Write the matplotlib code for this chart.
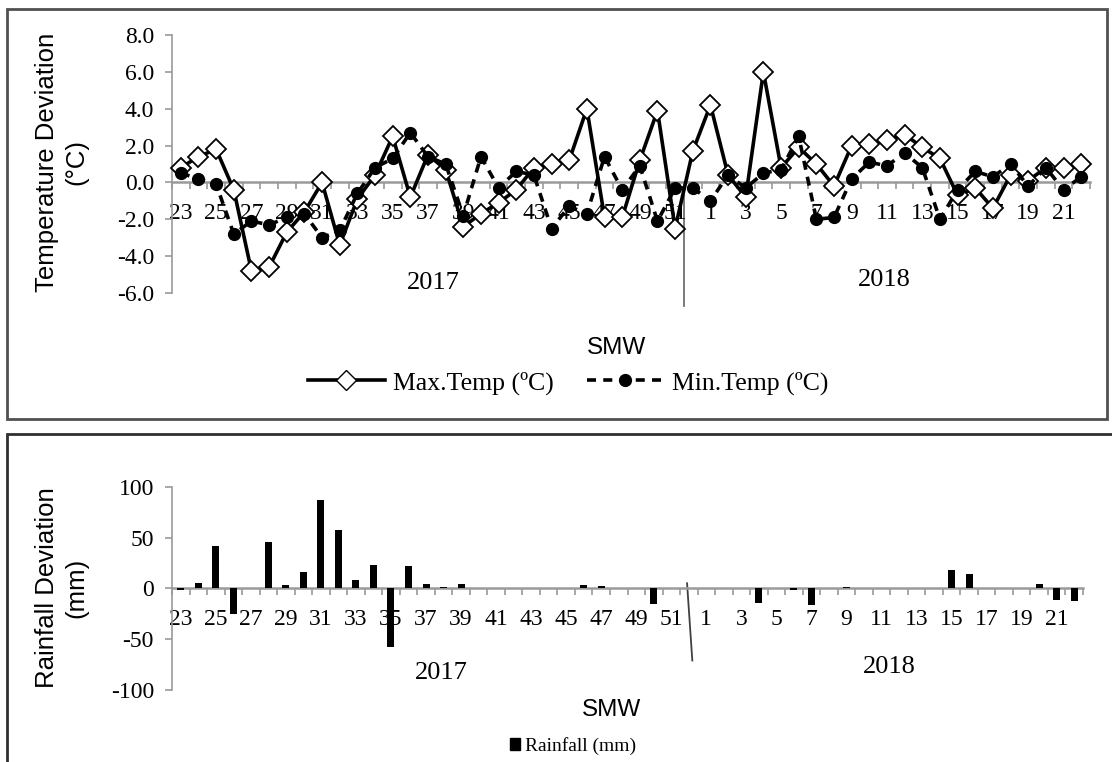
import matplotlib.pyplot as plt
from matplotlib.lines import Line2D
from matplotlib.patches import Rectangle
import numpy as np

# Standard meteorological weeks, June 2017 to May 2018
weeks = [23, 24, 25, 26, 27, 28, 29, 30, 31, 32, 33, 34, 35, 36, 37, 38, 39, 40,
         41, 42, 43, 44, 45, 46, 47, 48, 49, 50, 51, 52,
         1, 2, 3, 4, 5, 6, 7, 8, 9, 10, 11, 12, 13, 14, 15, 16, 17, 18, 19, 20, 21, 22]

# Temperature deviation (deg C)
max_temp = [0.8, 1.4, 1.8, -0.4, -4.8, -4.6, -2.7, -1.6, 0.0, -3.4, -0.9, 0.4, 2.5,
            -0.8, 1.5, 0.7, -2.4, -1.7, -1.1, -0.4, 0.8, 1.0, 1.2, 4.0, -1.9, -1.9,
            1.2, 3.9, -2.5, 1.7,
            4.2, 0.4, -0.8, 6.0, 0.8, 1.9, 1.0, -0.2, 2.0, 2.1, 2.3, 2.6, 1.9, 1.3,
            -0.7, -0.3, -1.4, 0.4, 0.1, 0.8, 0.8, 1.0]
min_temp = [0.5, 0.2, -0.1, -2.8, -2.1, -2.3, -1.9, -1.7, -3.0, -2.6, -0.6, 0.8, 1.3,
            2.7, 1.4, 1.0, -1.8, 1.4, -0.3, 0.6, 0.4, -2.5, -1.3, -1.7, 1.4, -0.4,
            0.9, -2.1, -0.3, -0.3,
            -1.0, 0.4, -0.3, 0.5, 0.7, 2.5, -2.0, -1.9, 0.2, 1.1, 0.9, 1.6, 0.8, -2.0,
            -0.4, 0.6, 0.3, 1.0, -0.2, 0.8, -0.4, 0.3]

# Rainfall deviation (mm)
rainfall = [-2, 5, 42, -25, 0, 46, 3, 16, 87, 57, 8, 23, -58, 22, 4, 1, 4, 0,
            0, 0, 0, 0, 0, 3, 2, 0, 0, -15, 0, 0,
            0, 0, 0, -14, 0, -2, -16, 0, 1, 0, 0, 0, 0.5, 0.5, 18, 14, 0.5, 0.5,
            0, 4, -11, -12]

W, H = 1112, 762
serif = 'Liberation Serif'
sans = 'Liberation Sans'
grey = '#9a9a9a'


def fx(px):
    return px / W


def fy(py):
    return 1 - py / H


def style_axis(ax, yticks, fmt):
    x = np.arange(len(weeks))
    ax.set_xlim(-0.5, len(weeks) - 0.5)
    for s in ['top', 'right']:
        ax.spines[s].set_visible(False)
    ax.spines['left'].set_color(grey)
    ax.spines['left'].set_linewidth(1.2)
    ax.spines['bottom'].set_position(('data', 0))
    ax.spines['bottom'].set_color(grey)
    ax.spines['bottom'].set_linewidth(1.8)
    ax.set_xticks(x[::2])
    ax.set_xticklabels([str(w) for w in weeks[::2]], fontfamily=serif, fontsize=17)
    ax.set_xticks(np.arange(-0.5, len(weeks), 1), minor=True)
    ax.tick_params(axis='x', which='major', length=0, pad=15)
    ax.tick_params(axis='x', which='minor', length=5, color=grey, width=1.2)
    ax.set_yticks(yticks)
    ax.set_yticklabels([fmt % v for v in yticks], fontfamily=serif, fontsize=17)
    ax.tick_params(axis='y', length=5, color=grey, width=1.2, pad=8)
    ax.patch.set_alpha(0)


fig = plt.figure(figsize=(W / 100, H / 100), dpi=100)

# panel borders
fig.patches.append(Rectangle((fx(7), fy(419)), fx(1100), 410 / H, transform=fig.transFigure,
                             fill=False, edgecolor='#505050', linewidth=2))
fig.patches.append(Rectangle((fx(7), fy(800)), fx(1120), 366 / H, transform=fig.transFigure,
                             fill=False, edgecolor='#303030', linewidth=2))

# ---- temperature panel ----
ax1 = fig.add_axes([fx(172), fy(293), fx(1090 - 172), 258 / H])
x = np.arange(len(weeks))
ax1.plot(x, max_temp, color='black', linewidth=2.6, marker='D', markersize=10,
         markerfacecolor='white', markeredgecolor='black', markeredgewidth=1.3,
         zorder=3, clip_on=False)
ax1.plot(x, min_temp, color='black', linewidth=2.6, linestyle=(0, (2.5, 2)),
         marker='o', markersize=8.5, markerfacecolor='black', markeredgecolor='black',
         zorder=4, clip_on=False)
ax1.set_ylim(-6, 8)
style_axis(ax1, [-6, -4, -2, 0, 2, 4, 6, 8], '%.1f')
ax1.plot([28.5, 28.5], [0, -6.7], color='#707070', linewidth=1.3, clip_on=False, zorder=1)

fig.text(fx(47), fy(162), 'Temperature Deviation', rotation=90, ha='center', va='center',
         fontfamily=sans, fontsize=18.5)
fig.text(fx(76), fy(162), '(°C)', rotation=90, ha='center', va='center',
         fontfamily=sans, fontsize=18.5)
fig.text(fx(433), fy(283), '2017', ha='center', va='center', fontfamily=serif, fontsize=19)
fig.text(fx(884), fy(280), '2018', ha='center', va='center', fontfamily=serif, fontsize=19)
fig.text(fx(617), fy(348), 'SMW', ha='center', va='center', fontfamily=sans, fontsize=17.5)

h_max = Line2D([], [], color='black', linewidth=2.6, marker='D', markersize=10,
               markerfacecolor='white', markeredgecolor='black')
h_min = Line2D([], [], color='black', linewidth=2.6, linestyle=(0, (2.5, 2)),
               marker='o', markersize=8.5, markerfacecolor='black')
fig.legend([h_max, h_min], ['Max.Temp (ºC)', 'Min.Temp (ºC)'], loc='center',
           bbox_to_anchor=(fx(568), fy(383)), ncol=2, frameon=False,
           prop={'family': serif, 'size': 18.5}, handlelength=3.0, handletextpad=0.3,
           columnspacing=1.3)

# ---- rainfall panel ----
ax2 = fig.add_axes([fx(172), fy(690), fx(1083 - 172), 203.3 / H])
ax2.bar(x, rainfall, width=0.4, color='black', zorder=3)
ax2.set_ylim(-100, 100)
style_axis(ax2, [-100, -50, 0, 50, 100], '%d')
ax2.plot([28.9, 29.2], [5, -71], color='#404040', linewidth=1.3, clip_on=False, zorder=1)

fig.text(fx(47), fy(588), 'Rainfall Deviation', rotation=90, ha='center', va='center',
         fontfamily=sans, fontsize=18.5)
fig.text(fx(76), fy(588), '(mm)', rotation=90, ha='center', va='center',
         fontfamily=sans, fontsize=18.5)
fig.text(fx(441), fy(673), '2017', ha='center', va='center', fontfamily=serif, fontsize=19)
fig.text(fx(889), fy(667), '2018', ha='center', va='center', fontfamily=serif, fontsize=19)
fig.text(fx(612), fy(710), 'SMW', ha='center', va='center', fontfamily=sans, fontsize=17.5)

h_rain = Rectangle((0, 0), 1, 1, color='black')
fig.legend([h_rain], ['Rainfall (mm)'], loc='center', bbox_to_anchor=(fx(573), fy(746)),
           frameon=False, prop={'family': serif, 'size': 14}, handlelength=0.55,
           handleheight=0.6, handletextpad=0.25)

fig.savefig('out.png', dpi=100)
